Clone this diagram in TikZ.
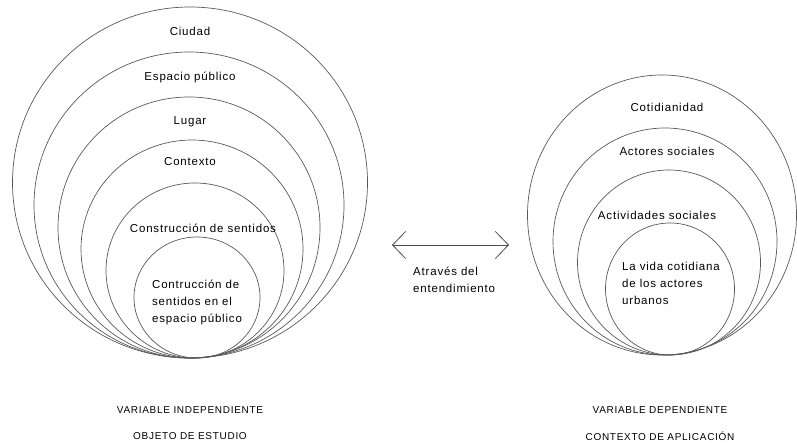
\documentclass[tikz,border=0pt]{standalone}
\usepackage{fontspec}
\setmainfont{Liberation Sans}
\newfontfamily\labfont{Liberation Sans}[LetterSpace=7]
\usetikzlibrary{arrows.meta,shapes.geometric}
\begin{document}
\begin{tikzpicture}[x=1pt,y=-1pt,
  ring/.style={draw=black!65, line width=0.7pt, ellipse, inner sep=0pt},
  lab/.style={font=\labfont\fontsize{11.5}{17}\selectfont, inner sep=0pt},
  lablft/.style={lab, align=left, anchor=north west},
  foot/.style={font=\labfont\fontsize{10}{12}\selectfont, inner sep=0pt}]
\useasboundingbox (0,0) rectangle (797,443);
% left set of circles (tangent at bottom y=358)
\node[ring, minimum width=355, minimum height=351] (L1) at (190,182.5) {};
\node[ring, minimum width=310, minimum height=306] (L2) at (189,205) {};
\node[ring, minimum width=262, minimum height=261] (L3) at (189,227.5) {};
\node[ring, minimum width=222, minimum height=218] (L4) at (192,249) {};
\node[ring, minimum width=178, minimum height=175] (L5) at (195,270.5) {};
\node[ring, minimum width=126, minimum height=121] (L6) at (197,297.5) {};
\node[lab] (tL1) at (190,31) {Ciudad};
\node[lab] (tL2) at (190,77) {Espacio público};
\node[lab] (tL3) at (190,122) {Lugar};
\node[lab] (tL4) at (190,162) {Contexto};
\node[lab] (tL5) at (203,228) {Construcción de sentidos};
\node[lablft] (tL6) at (152,280) {Contrucción de\\sentidos en el\\espacio público};
% right set of circles (tangent at bottom y=355)
\node[ring, minimum width=269, minimum height=280] (R1) at (662,215) {};
\node[ring, minimum width=224, minimum height=227] (R2) at (665,241.5) {};
\node[ring, minimum width=183, minimum height=185] (R3) at (669,262.5) {};
\node[ring, minimum width=129, minimum height=132] (R4) at (670,289) {};
\node[lab] (tR1) at (667,107) {Cotidianidad};
\node[lab] (tR2) at (667,151) {Actores sociales};
\node[lab] (tR3) at (657,215) {Actividades sociales};
\node[lablft] (tR4) at (622,262) {La vida cotidiana\\de los actores\\urbanos};
% arrow
\coordinate (aL) at (392,245);
\coordinate (aR) at (509,245);
\draw[black!70, line width=0.8pt, {Straight Barb[length=13pt,width=27pt]}-{Straight Barb[length=13pt,width=27pt]}] (aL) -- (aR);
\node[lablft] (tA) at (413,267) {Através del\\entendimiento};
% footer labels
\node[foot] (fL1) at (190,410) {VARIABLE INDEPENDIENTE};
\node[foot] (fL2) at (190,436) {OBJETO DE ESTUDIO};
\node[foot] (fR1) at (660,410) {VARIABLE DEPENDIENTE};
\node[foot] (fR2) at (660,436) {CONTEXTO DE APLICACIÓN};
\end{tikzpicture}
\end{document}
